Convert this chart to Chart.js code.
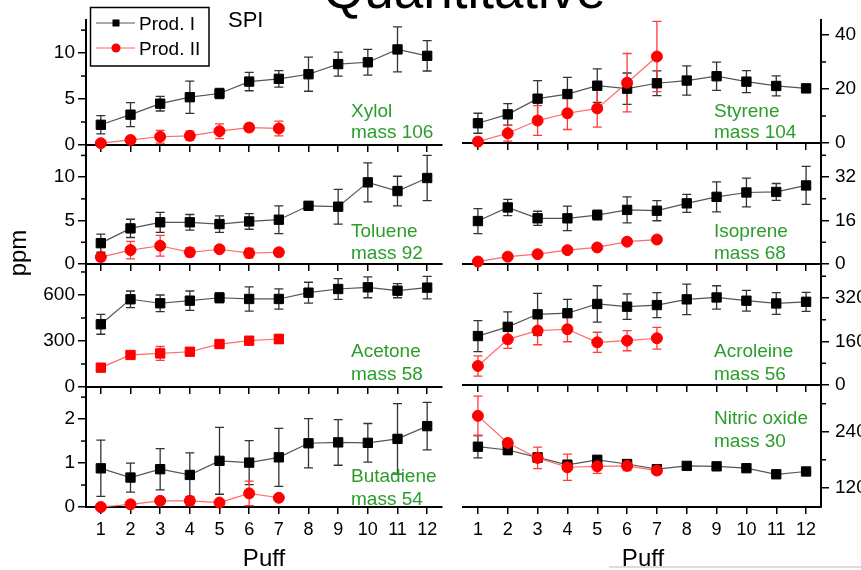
<!DOCTYPE html>
<html>
<head>
<meta charset="utf-8">
<script src="https://cdn.jsdelivr.net/npm/chart.js@4.4.0/dist/chart.umd.min.js"></script>
<style>
  html, body { margin: 0; padding: 0; background: #fff; overflow: hidden; }
  #wrap { position: relative; width: 861px; height: 570px; }
  #wrap canvas { position: absolute; left: 0; top: 0; }
  #rule { position: absolute; left: 609px; top: 566px; width: 252px; height: 2px; background: #dcdcdc; }
</style>
</head>
<body>
<div id="wrap"><div id="rule"></div></div>
<script>
// puff number on the x axis
const puffs = [1, 2, 3, 4, 5, 6, 7, 8, 9, 10, 11, 12];

// Xylol, mass 106
const xylolI = [2.2, 3.3, 4.5, 5.2, 5.6, 6.9, 7.2, 7.7, 8.8, 9.0, 10.4, 9.7];
const xylolIErr = [1.0, 1.3, 0.8, 1.75, 0.55, 1.0, 0.9, 1.85, 1.3, 1.4, 2.45, 1.65];
const xylolII = [0.2, 0.55, 0.9, 1.0, 1.5, 1.9, 1.8];
const xylolIIErr = [0.2, 0.3, 0.7, 0.5, 0.8, 0.4, 0.8];
const xylolTicks = [0, 5, 10];
const xylolMinor = [2.5, 7.5, 12.5];

// Styrene, mass 104
const styreneI = [7.3, 10.6, 16.4, 18.1, 21.2, 20.1, 22.1, 23.1, 24.7, 22.7, 21.1, 20.2];
const styreneIErr = [3.7, 4.0, 6.7, 6.2, 6.2, 5.8, 4.6, 5.4, 5.2, 4.1, 3.7, 1.5];
const styreneII = [0.5, 3.6, 8.3, 11.0, 12.8, 22.3, 32.0];
const styreneIIErr = [0.5, 2.9, 5.5, 6.0, 6.9, 10.8, 13.0];
const styreneTicks = [0, 20, 40];
const styreneMinor = [10, 30];

// Toluene, mass 92
const tolueneI = [2.4, 4.1, 4.8, 4.8, 4.6, 4.9, 5.1, 6.7, 6.6, 9.4, 8.4, 9.9];
const tolueneIErr = [1.05, 1.05, 1.15, 0.9, 0.95, 0.9, 1.6, 0.4, 2.0, 2.25, 1.7, 2.6];
const tolueneII = [0.8, 1.6, 2.1, 1.35, 1.7, 1.25, 1.35];
const tolueneIIErr = [0.4, 1.0, 1.2, 0.5, 0.3, 0.55, 0.4];
const tolueneTicks = [0, 5, 10];
const tolueneMinor = [2.5, 7.5, 12.5];

// Isoprene, mass 68
const isopreneI = [15.8, 20.8, 16.8, 16.8, 18.0, 19.9, 19.6, 22.3, 24.7, 26.3, 26.5, 28.9];
const isopreneIErr = [4.6, 3.0, 2.6, 4.5, 1.8, 4.8, 3.7, 3.3, 5.5, 5.3, 3.1, 7.0];
const isopreneII = [0.9, 2.7, 3.6, 5.1, 6.1, 8.2, 9.0];
const isopreneIIErr = [0.5, 0.5, 0.5, 0.5, 0.5, 0.5, 0.5];
const isopreneTicks = [0, 16, 32];
const isopreneMinor = [8, 24, 40];

// Acetone, mass 58
const acetoneI = [409, 572, 546, 563, 582, 574, 574, 615, 639, 650, 628, 648];
const acetoneIErr = [65, 54, 54, 63, 33, 79, 66, 68, 68, 68, 46, 73];
const acetoneII = [126, 209, 219, 230, 280, 302, 313];
const acetoneIIErr = [15, 15, 45, 15, 20, 25, 30];
const acetoneTicks = [0, 300, 600];
const acetoneMinor = [150, 450, 750];

// Acroleine, mass 56
const acroleineI = [180, 214, 260, 264, 298, 288, 294, 315, 322, 310, 300, 306];
const acroleineIErr = [57, 55, 77, 51, 67, 47, 46, 56, 43, 38, 40, 35];
const acroleineII = [70, 168, 200, 205, 157, 163, 172];
const acroleineIIErr = [37, 33, 52, 46, 37, 37, 40];
const acroleineTicks = [0, 160, 320];
const acroleineMinor = [80, 240, 400];

// Butadiene, mass 54
const butadieneI = [0.88, 0.67, 0.86, 0.73, 1.05, 1.01, 1.13, 1.45, 1.47, 1.46, 1.55, 1.84];
const butadieneIErr = [0.64, 0.33, 0.47, 0.5, 0.76, 0.5, 0.66, 0.56, 0.52, 0.44, 0.8, 0.54];
const butadieneII = [0.0, 0.06, 0.14, 0.14, 0.1, 0.31, 0.21];
const butadieneIIErr = [0.02, 0.03, 0.05, 0.1, 0.05, 0.28, 0.05];
const butadieneTicks = [0, 1, 2];
const butadieneMinor = [0.5, 1.5, 2.5];

// Nitric oxide, mass 30
const nitricI = [208, 201, 185, 169, 180, 171, 160, 167, 166, 162, 149, 155];
const nitricIErr = [24, 10, 10, 10, 5, 5, 3, 0, 0, 0, 0, 0];
const nitricII = [274, 216, 184, 164, 166, 167, 157];
const nitricIIErr = [42, 8, 23, 28, 15, 10, 5];
const nitricTicks = [120, 240];
const nitricMinor = [180, 300];

const W = 861, H = 570;
const FONT = '"Liberation Sans", Arial, sans-serif';
const GREEN = '#2a9d2a';

// layout of the eight panels (chart area in page pixels)
const panels = [
  { name: 'Xylol', mass: 'mass 106', side: 'left', area: [86, 20, 442, 145], yMin: 0, yMax: 13.6,
    ticks: xylolTicks, minor: xylolMinor, I: xylolI, IErr: xylolIErr, II: xylolII, IIErr: xylolIIErr, note: [351, 117, 138] },
  { name: 'Styrene', mass: 'mass 104', side: 'right', area: [463, 20, 821, 143], yMin: 0, yMax: 45.5,
    ticks: styreneTicks, minor: styreneMinor, I: styreneI, IErr: styreneIErr, II: styreneII, IIErr: styreneIIErr, note: [714, 117, 138] },
  { name: 'Toluene', mass: 'mass 92', side: 'left', area: [86, 145, 442, 264], yMin: 0, yMax: 13.7,
    ticks: tolueneTicks, minor: tolueneMinor, I: tolueneI, IErr: tolueneIErr, II: tolueneII, IIErr: tolueneIIErr, note: [351, 237, 259] },
  { name: 'Isoprene', mass: 'mass 68', side: 'right', area: [463, 143, 821, 264], yMin: 0, yMax: 44.5,
    ticks: isopreneTicks, minor: isopreneMinor, I: isopreneI, IErr: isopreneIErr, II: isopreneII, IIErr: isopreneIIErr, note: [714, 237, 259] },
  { name: 'Acetone', mass: 'mass 58', side: 'left', area: [86, 264, 442, 387], yMin: 0, yMax: 802,
    ticks: acetoneTicks, minor: acetoneMinor, I: acetoneI, IErr: acetoneIErr, II: acetoneII, IIErr: acetoneIIErr, note: [351, 357, 380], redSquares: true },
  { name: 'Acroleine', mass: 'mass 56', side: 'right', area: [463, 264, 821, 385], yMin: 0, yMax: 445,
    ticks: acroleineTicks, minor: acroleineMinor, I: acroleineI, IErr: acroleineIErr, II: acroleineII, IIErr: acroleineIIErr, note: [714, 357, 380] },
  { name: 'Butadiene', mass: 'mass 54', side: 'left', area: [86, 387, 442, 507], yMin: 0, yMax: 2.73,
    ticks: butadieneTicks, minor: butadieneMinor, I: butadieneI, IErr: butadieneIErr, II: butadieneII, IIErr: butadieneIIErr, note: [351, 482, 505], bottom: true },
  { name: 'Nitric oxide', mass: 'mass 30', side: 'right', area: [463, 385, 821, 507], yMin: 79, yMax: 340,
    ticks: nitricTicks, minor: nitricMinor, I: nitricI, IErr: nitricIErr, II: nitricII, IIErr: nitricIIErr, note: [714, 424, 447], bottom: true }
];

const pts = arr => arr.map((v, i) => ({ x: puffs[i], y: v }));

// error bars drawn with the chart's own scales
const errorBars = {
  id: 'errorBars',
  beforeDatasetsDraw(chart) {
    const { ctx, scales: { x, y } } = chart;
    ctx.save();
    chart.data.datasets.slice().reverse().forEach(ds => {
      ctx.strokeStyle = ds.errColor;
      ctx.lineWidth = 1.3;
      ds.data.forEach((p, i) => {
        const e = ds.errors[i];
        if (!e) return;
        const px = x.getPixelForValue(p.x);
        const y1 = y.getPixelForValue(p.y - e), y2 = y.getPixelForValue(p.y + e);
        ctx.beginPath();
        ctx.moveTo(px, y1); ctx.lineTo(px, y2);
        ctx.moveTo(px - 4.5, y1); ctx.lineTo(px + 4.5, y1);
        ctx.moveTo(px - 4.5, y2); ctx.lineTo(px + 4.5, y2);
        ctx.stroke();
      });
    });
    ctx.restore();
  }
};

function drawPage(ctx) {
  ctx.save();
  ctx.fillStyle = '#000';
  ctx.textBaseline = 'alphabetic';
  ctx.font = '53px ' + FONT;
  ctx.fillText('Quantitative', 323, 8);

  // legend box
  ctx.fillStyle = '#fff';
  ctx.fillRect(90, 7, 119, 59);
  ctx.strokeStyle = '#000';
  ctx.lineWidth = 1.5;
  ctx.strokeRect(90.5, 7.5, 118.5, 58.5);
  ctx.lineWidth = 1;
  ctx.strokeStyle = '#555';
  ctx.beginPath(); ctx.moveTo(96, 23); ctx.lineTo(135, 23); ctx.stroke();
  ctx.fillStyle = '#000';
  ctx.fillRect(112.5, 19.5, 7, 7);
  ctx.strokeStyle = '#ff6060';
  ctx.beginPath(); ctx.moveTo(96, 48); ctx.lineTo(135, 48); ctx.stroke();
  ctx.fillStyle = '#ff0000';
  ctx.beginPath(); ctx.arc(116, 48, 4.5, 0, Math.PI * 2); ctx.fill();
  ctx.fillStyle = '#000';
  ctx.font = '19px ' + FONT;
  ctx.fillText('Prod. I', 139, 30);
  ctx.fillText('Prod. II', 139, 55);

  ctx.font = '22px ' + FONT;
  ctx.fillText('SPI', 228, 27);

  ctx.font = '24px ' + FONT;
  ctx.textAlign = 'center';
  ctx.fillText('Puff', 264, 566);
  ctx.fillText('Puff', 643, 566);
  ctx.translate(26, 253);
  ctx.rotate(-Math.PI / 2);
  ctx.fillText('ppm', 0, 0);
  ctx.restore();
}

panels.forEach((p, idx) => {
  const canvas = document.createElement('canvas');
  canvas.width = W; canvas.height = H;
  document.getElementById('wrap').appendChild(canvas);
  const [L, T, R, B] = p.area;
  const xh = p.bottom ? H - B : 10;
  const yw = p.side === 'left' ? L : 40;

  const notes = {
    id: 'notes',
    afterDraw(chart) {
      const ctx = chart.ctx;
      const ys = chart.scales.y;
      ctx.save();
      // minor ticks
      ctx.strokeStyle = '#000';
      ctx.lineWidth = 1.5;
      p.minor.forEach(v => {
        const py = ys.getPixelForValue(v);
        ctx.beginPath();
        if (p.side === 'left') { ctx.moveTo(L - 5, py); ctx.lineTo(L, py); }
        else { ctx.moveTo(R, py); ctx.lineTo(R + 5, py); }
        ctx.stroke();
      });
      ctx.fillStyle = GREEN;
      ctx.font = '19px ' + FONT;
      ctx.textBaseline = 'alphabetic';
      ctx.fillText(p.name, p.note[0], p.note[1]);
      ctx.fillText(p.mass, p.note[0], p.note[2]);
      ctx.restore();
      if (idx === 0) drawPage(ctx);
    }
  };

  new Chart(canvas, {
    type: 'line',
    data: {
      datasets: [
        {
          data: pts(p.II), errors: p.IIErr, errColor: '#ff3b3b', order: 0,
          borderColor: '#ff6a6a', borderWidth: 1.2,
          pointStyle: p.redSquares ? 'rect' : 'circle', pointRadius: p.redSquares ? 6.6 : 5.5,
          pointBackgroundColor: '#ff0000', pointBorderColor: '#ff0000', pointBorderWidth: 1,
          clip: false, tension: 0
        },
        {
          data: pts(p.I), errors: p.IErr, errColor: '#333', order: 1,
          borderColor: '#555', borderWidth: 1.2,
          pointStyle: 'rect', pointRadius: 6.6,
          pointBackgroundColor: '#000', pointBorderColor: '#000', pointBorderWidth: 1,
          clip: false, tension: 0
        }
      ]
    },
    options: {
      responsive: false,
      animation: false,
      events: [],
      devicePixelRatio: 1,
      layout: {
        padding: {
          left: p.side === 'left' ? 0 : L,
          right: p.side === 'left' ? W - R : W - R - yw,
          top: T,
          bottom: H - B - xh
        }
      },
      plugins: { legend: { display: false }, tooltip: { enabled: false } },
      scales: {
        x: {
          type: 'linear', min: 0.5, max: 12.5,
          afterBuildTicks: a => { a.ticks = puffs.map(v => ({ value: v })); },
          afterFit: s => { s.height = xh; },
          grid: { drawOnChartArea: false, drawTicks: true, tickLength: 7, color: '#000', lineWidth: 1.5 },
          border: { display: true, color: '#000', width: 2 },
          ticks: {
            autoSkip: false, maxRotation: 0, padding: 5, color: '#000',
            font: { family: FONT, size: 18 },
            callback: v => (p.bottom ? String(v) : '')
          }
        },
        y: {
          type: 'linear', position: p.side, min: p.yMin, max: p.yMax,
          afterBuildTicks: a => { a.ticks = p.ticks.map(v => ({ value: v })); },
          afterFit: s => { s.width = yw; },
          grid: { drawOnChartArea: false, drawTicks: true, tickLength: 8, color: '#000', lineWidth: 1.5 },
          border: { display: true, color: '#000', width: 2 },
          ticks: {
            padding: p.side === 'left' ? 3 : 6, color: '#000',
            font: { family: FONT, size: 19 },
            callback: v => String(v)
          }
        }
      }
    },
    plugins: [errorBars, notes]
  });
});
</script>
</body>
</html>
